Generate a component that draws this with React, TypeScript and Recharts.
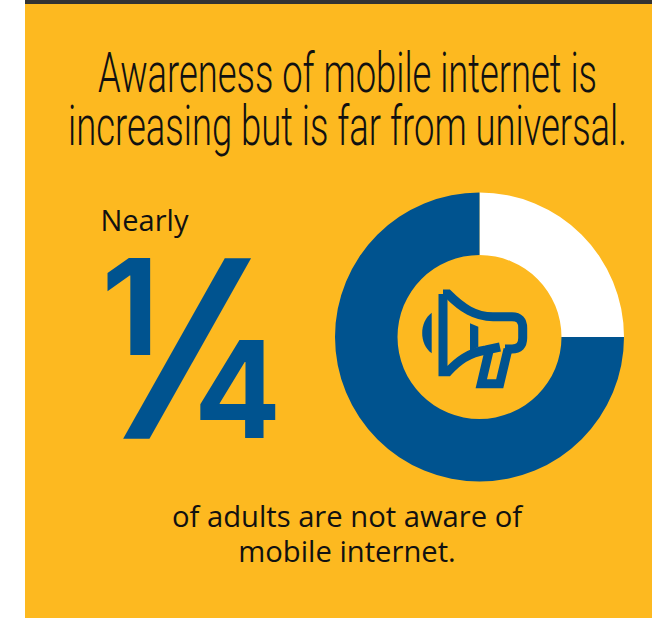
import { PieChart, Pie, Cell } from 'recharts'

const awareness = ['Not aware', 'Aware']
const shares = [25, 75]
const sliceColors = ['#FFFFFF', '#00538F']
const titleLines = ['Awareness of mobile internet is', 'increasing but is far from universal.']
const captionLines = ['of adults are not aware of', 'mobile internet.']

const BLUE = '#00538F'
const YELLOW = '#FDB920'
const BODY_FONT = '"Open Sans", sans-serif'
const TITLE_FONT = 'Roboto, sans-serif'
const BIG_FONT = 'Inter, sans-serif'

const pieData = awareness.map((name, i) => ({ name, value: shares[i] }))

function Megaphone() {
  return (
    <g fill="none" stroke={BLUE} strokeWidth={9} strokeLinejoin="miter">
      {/* horn and mouth */}
      <path d="M443 294 L443 371.7 L448 371.7 C458 361 468 353 486 350 L500 347" />
      <path d="M443 294 L448 294 C462 308 475 316.7 493 316.7 L512 316.7 Q522.7 316.7 522.7 328 L522.7 338 Q522.7 349 512 349 L505 349" />
      {/* handle */}
      <path d="M489.5 349 L481.3 383.7 L499.7 383.7 L508 349" />
      <path d="M470 323.3 L478.3 326.7 L478.3 347 L470 350.7 Z" fill={BLUE} stroke="none" />
      <path d="M431.7 312.7 C419 322 419 344 431.7 353.3 Z" fill={BLUE} stroke="none" />
    </g>
  )
}

export default function App() {
  return (
    <div style={{ position: 'absolute', left: 0, top: 0, width: 652, height: 618, background: '#fff', overflow: 'hidden' }}>
      <div style={{ position: 'absolute', left: 25, top: 0, right: 0, bottom: 0, background: YELLOW }} />
      <div style={{ position: 'absolute', left: 25, top: 0, right: 0, height: 4, background: '#333333' }} />
      <div style={{ position: 'absolute', left: 0, top: 0 }}>
        <PieChart width={652} height={618} margin={{ top: 0, right: 0, bottom: 0, left: 0 }}>
          <Pie
            data={pieData}
            dataKey="value"
            nameKey="name"
            cx={479.5}
            cy={337}
            innerRadius={82}
            outerRadius={144.5}
            startAngle={90}
            endAngle={-270}
            stroke="none"
            isAnimationActive={false}
          >
            {pieData.map((d, i) => (
              <Cell key={d.name} fill={sliceColors[i]} />
            ))}
          </Pie>
          <text x={98} y={92} fontFamily={TITLE_FONT} fontWeight={300} fontSize={56} fill="#111" textLength={499} lengthAdjust="spacingAndGlyphs">
            {titleLines[0]}
          </text>
          <text x={68} y={145} fontFamily={TITLE_FONT} fontWeight={300} fontSize={56} fill="#111" textLength={559} lengthAdjust="spacingAndGlyphs">
            {titleLines[1]}
          </text>
          <text x={100.5} y={231} fontFamily={BODY_FONT} fontSize={29} fill="#111">Nearly</text>
          <text x={347} y={527} textAnchor="middle" fontFamily={BODY_FONT} fontSize={29.2} fill="#111">{captionLines[0]}</text>
          <text x={347} y={562} textAnchor="middle" fontFamily={BODY_FONT} fontSize={29.2} fill="#111">{captionLines[1]}</text>
          <text x={101.5} y={355} fontFamily={BIG_FONT} fontWeight={700} fontSize={133} fill={BLUE}>1</text>
          <text transform="translate(127 416) skewX(-16.4)" fontFamily={BIG_FONT} fontWeight={700} fontSize={207} fill={BLUE}>/</text>
          <text transform="translate(194 438) scale(0.96 1)" fontFamily={BIG_FONT} fontWeight={700} fontSize={134} fill={BLUE}>4</text>
          <Megaphone />
        </PieChart>
      </div>
    </div>
  )
}
